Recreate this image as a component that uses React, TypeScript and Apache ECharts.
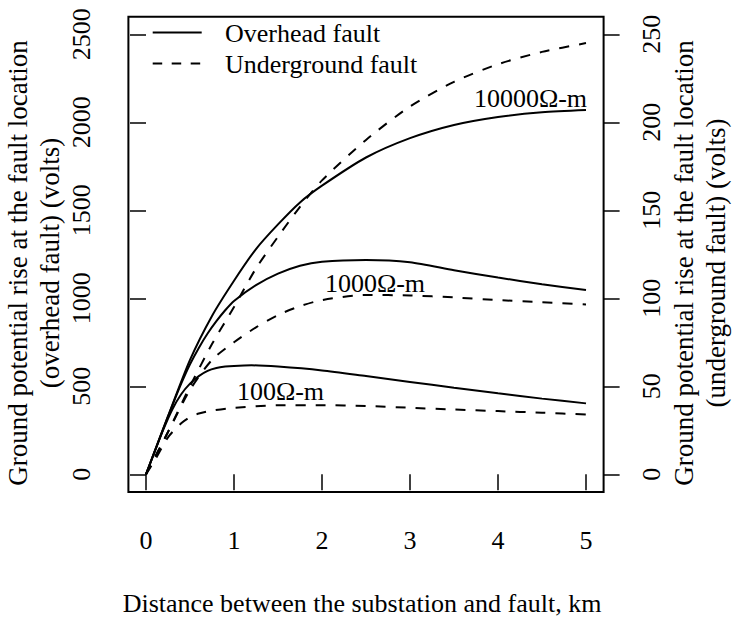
import React, { useEffect, useRef } from "react";
import * as echarts from "echarts";

// ---- data ----
const xTicks = [0, 1, 2, 3, 4, 5];
const leftTicks = [0, 500, 1000, 1500, 2000, 2500];
const rightTicks = [0, 50, 100, 150, 200, 250];

// Overhead fault (left axis, volts)
const ohDist100 = [0, 0.1, 0.2, 0.3, 0.4, 0.5, 0.6, 0.7, 0.8, 0.9, 1.0, 1.2, 1.5, 2.0, 2.5, 3.0, 3.5, 4.0, 4.5, 5.0];
const ohVolt100 = [0, 130, 258, 370, 455, 515, 558, 588, 604, 612, 616, 619, 612, 590, 558, 525, 492, 460, 430, 403];

const ohDist1000 = [0, 0.1, 0.2, 0.3, 0.4, 0.5, 0.6, 0.7, 0.8, 0.9, 1.0, 1.25, 1.5, 1.75, 2.0, 2.5, 3.0, 3.5, 4.0, 4.5, 5.0];
const ohVolt1000 = [0, 132, 264, 392, 515, 625, 718, 800, 870, 932, 985, 1075, 1140, 1185, 1208, 1218, 1205, 1160, 1118, 1080, 1047];

const ohDist10000 = [0, 0.25, 0.5, 0.75, 1.0, 1.25, 1.5, 1.75, 2.0, 2.5, 3.0, 3.5, 4.0, 4.5, 5.0];
const ohVolt10000 = [0, 330, 650, 900, 1100, 1280, 1420, 1545, 1640, 1800, 1910, 1985, 2030, 2057, 2070];

// Underground fault (right axis, volts)
const ugDist100 = [0, 0.1, 0.25, 0.4, 0.5, 0.6, 0.75, 1.0, 1.5, 2.0, 2.5, 3.0, 3.5, 4.0, 4.5, 5.0];
const ugVolt100 = [0, 8, 21, 29, 32.5, 34.5, 36.2, 37.8, 39.2, 39.3, 38.8, 37.8, 36.8, 35.9, 35.0, 34.0];

const ugDist1000 = [0, 0.25, 0.5, 0.75, 1.0, 1.25, 1.5, 1.75, 2.0, 2.5, 3.0, 3.5, 4.0, 4.5, 5.0];
const ugVolt1000 = [0, 24, 48, 65, 75, 83.5, 90.5, 95.5, 99, 101.9, 101.6, 100.5, 99, 97.8, 96.5];

const ugDist10000 = [0, 0.25, 0.5, 0.75, 1.0, 1.25, 1.5, 1.75, 2.0, 2.5, 3.0, 3.5, 4.0, 4.5, 5.0];
const ugVolt10000 = [0, 24, 50, 74, 95, 117, 135, 152, 167, 190, 209, 223, 233, 240, 245];

const resistivityLabels = ["100Ω-m", "1000Ω-m", "10000Ω-m"];
const legendNames = ["Overhead fault", "Underground fault"];

const FONT = "Liberation Serif, 'Times New Roman', Times, serif";
const FS = 26;
const FS_YT = 27;

const zip = (xs: number[], ys: number[]) => xs.map((x, i) => [x, ys[i]]);

export default function App() {
  const ref = useRef<HTMLDivElement>(null);

  useEffect(() => {
    document.body.style.margin = "0";
    if (!ref.current) return;
    const chart = echarts.init(ref.current, null, { renderer: "svg" });

    const solid = { color: "#000", width: 2, type: "solid" as const };
    const dashed = { color: "#000", width: 2, type: [10, 10] as any };

    const mk = (name: string, xs: number[], ys: number[], yAxisIndex: number, ls: any) => ({
      type: "line",
      name,
      data: zip(xs, ys),
      yAxisIndex,
      showSymbol: false,
      symbol: "none",
      smooth: 0.25,
      lineStyle: ls,
      silent: true,
    });

    const txt = (text: string, x: number, y: number, extra: any = {}, fs: number = FS) => ({
      type: "text",
      x,
      y,
      silent: true,
      ...extra,
      style: {
        text,
        fill: "#000",
        font: `${fs}px ${FONT}`,
        textAlign: "center",
        textVerticalAlign: "middle",
        ...(extra.style || {}),
      },
    });

    const plain = (v: number) => String(v);
    const rot = { rotation: Math.PI / 2 };

    chart.setOption({
      animation: false,
      grid: {
        left: 128.4,
        top: 16.7,
        width: 475.2,
        height: 475.2,
        show: true,
        borderColor: "#000",
        borderWidth: 2,
        backgroundColor: "transparent",
      },
      xAxis: {
        type: "value",
        min: -0.2,
        max: 5.2,
        axisLine: { show: false },
        splitLine: { show: false },
        axisTick: { show: true, length: 16, customValues: xTicks, lineStyle: { color: "#000", width: 1.5 } },
        axisLabel: {
          customValues: xTicks,
          formatter: plain,
          margin: 36,
          color: "#000",
          fontFamily: FONT,
          fontSize: FS,
          lineHeight: FS,
        },
      },
      yAxis: [
        {
          type: "value",
          position: "left",
          min: -100,
          max: 2600,
          axisLine: { show: false },
          splitLine: { show: false },
          axisTick: { show: true, length: 16, customValues: leftTicks, lineStyle: { color: "#000", width: 1.5 } },
          axisLabel: {
            customValues: leftTicks,
            formatter: plain,
            rotate: 90,
            margin: 34,
            color: "#000",
            fontFamily: FONT,
            fontSize: FS,
            lineHeight: FS,
          },
        },
        {
          type: "value",
          position: "right",
          min: -10,
          max: 260,
          axisLine: { show: false },
          splitLine: { show: false },
          axisTick: { show: true, length: 16, customValues: rightTicks, lineStyle: { color: "#000", width: 1.5 } },
          axisLabel: {
            customValues: rightTicks,
            formatter: plain,
            rotate: 90,
            margin: 35,
            color: "#000",
            fontFamily: FONT,
            fontSize: FS,
            lineHeight: FS,
          },
        },
      ],
      series: [
        mk(legendNames[0], ohDist100, ohVolt100, 0, solid),
        mk(legendNames[0], ohDist1000, ohVolt1000, 0, solid),
        mk(legendNames[0], ohDist10000, ohVolt10000, 0, solid),
        mk(legendNames[1], ugDist100, ugVolt100, 1, dashed),
        mk(legendNames[1], ugDist1000, ugVolt1000, 1, dashed),
        mk(legendNames[1], ugDist10000, ugVolt10000, 1, dashed),
      ],
      graphic: [
        // legend
        { type: "line", silent: true, shape: { x1: 152.7, y1: 32.5, x2: 201.7, y2: 32.5 }, style: { stroke: "#000", lineWidth: 2 } },
        { type: "line", silent: true, shape: { x1: 152.7, y1: 63.5, x2: 201.7, y2: 63.5 }, style: { stroke: "#000", lineWidth: 2, lineDash: [9.5, 9.5] } },
        txt(legendNames[0], 225, 33, { style: { textAlign: "left" } }),
        txt(legendNames[1], 225, 64, { style: { textAlign: "left" } }),
        // resistivity labels
        txt(resistivityLabels[2], 530.5, 98),
        txt(resistivityLabels[1], 375, 283),
        txt(resistivityLabels[0], 280.5, 391),
        // axis titles
        txt("Distance between the substation and fault, km", 362, 603),
        txt("Ground potential rise at the fault location", 17.5, 263, rot, FS_YT),
        txt("(overhead fault) (volts)", 50, 263, rot, FS_YT),
        txt("Ground potential rise at the fault location", 684, 263, rot, FS_YT),
        txt("(underground fault) (volts)", 716, 263, rot, FS_YT),
      ],
    });

    return () => chart.dispose();
  }, []);

  return <div ref={ref} style={{ width: 732, height: 618 }} />;
}
